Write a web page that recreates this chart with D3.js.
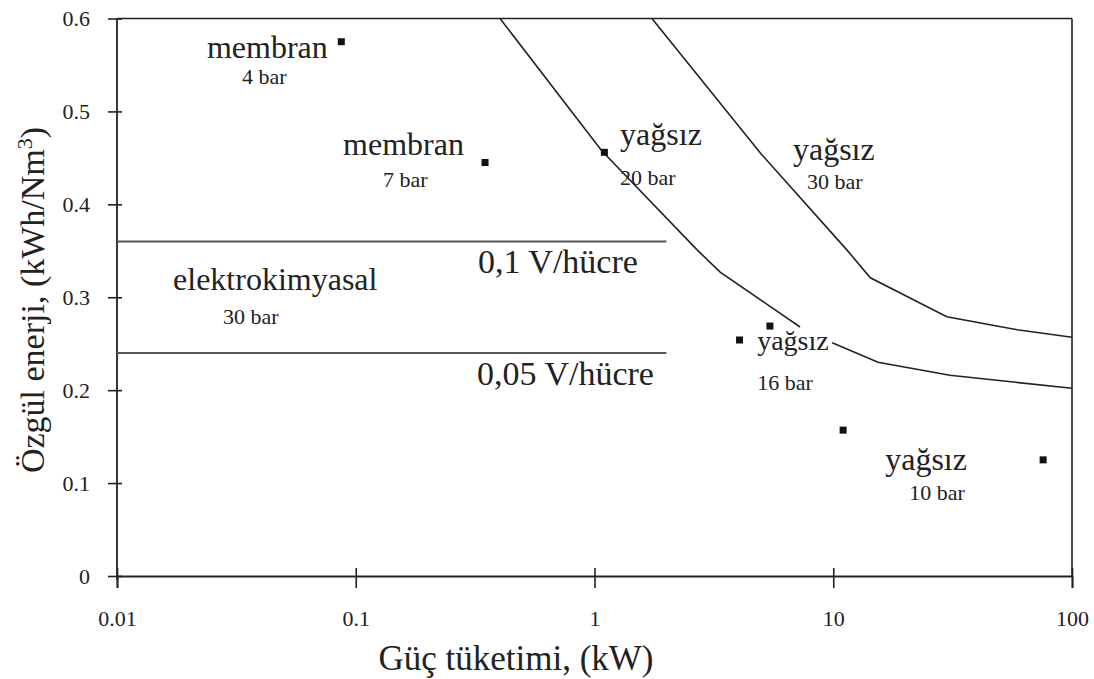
<!DOCTYPE html>
<html><head><meta charset="utf-8">
<script src="https://cdn.jsdelivr.net/npm/d3@7"></script>
<style>body{margin:0;background:#fff}svg{display:block}</style>
</head><body><svg id="c" width="1094" height="679" font-family="Liberation Serif"></svg>
<script>
// Data
const xTicks = [0.01, 0.1, 1, 10, 100];
const xTickLabels = ["0.01", "0.1", "1", "10", "100"];
const yTicks = [0, 0.1, 0.2, 0.3, 0.4, 0.5, 0.6];
const yTickLabels = ["0", "0.1", "0.2", "0.3", "0.4", "0.5", "0.6"];
const pointX = [0.087, 0.348, 1.10, 4.05, 5.43, 11.0, 75.7];
const pointY = [0.575, 0.445, 0.456, 0.254, 0.269, 0.157, 0.125];
// 20 bar curve (lower), two segments with a gap at the label
const curve20aX = [0.402, 1.07, 2.69, 3.36, 7.26];
const curve20aY = [0.6, 0.458, 0.351, 0.327, 0.268];
const curve20bX = [9.9, 15.4, 30.8, 100];
const curve20bY = [0.251, 0.230, 0.216, 0.202];
// 30 bar curve (upper)
const curve30X = [1.74, 5.0, 11.4, 14.3, 29.9, 58.9, 100];
const curve30Y = [0.6, 0.454, 0.351, 0.321, 0.279, 0.265, 0.257];
// electrochemical reference lines
const refLineY = [0.36, 0.24];
const refLineXEnd = [2.0, 2.0];
const refLabels = ["0,1 V/hücre", "0,05 V/hücre"];
const refLabX = [0.325, 0.322];
const refLabY = [0.326, 0.2056];
// annotations
const labelText = ["membran", "membran", "yağsız", "yağsız", "elektrokimyasal", "yağsız", "yağsız"];
const labelX = [0.0238, 0.0885, 1.28, 6.78, 0.01717, 4.80, 16.5];
const labelY = [0.558, 0.453, 0.464, 0.4475, 0.308, 0.243, 0.114];
const labelSize = [32, 32, 32, 32, 32, 28, 32];
const subText = ["4 bar", "7 bar", "20 bar", "30 bar", "30 bar", "16 bar", "10 bar"];
const subX = [0.0334, 0.130, 1.28, 7.77, 0.0278, 4.80, 20.8];
const subY = [0.529, 0.419, 0.421, 0.416, 0.271, 0.2006, 0.0822];

const svg = d3.select("#c");
const x = d3.scaleLog().domain([0.01, 100]).range([117, 1072]);
const y = d3.scaleLinear().domain([0, 0.6]).range([576, 18.5]);
const ink = "#222";
const FONT = "Liberation Serif";

// frame top/right
svg.append("line").attr("x1", x(0.01)).attr("x2", x(100)).attr("y1", y(0.6)).attr("y2", y(0.6)).attr("stroke", ink).attr("stroke-width", 1.6);
svg.append("line").attr("x1", x(100)).attr("x2", x(100)).attr("y1", y(0.6)).attr("y2", y(0)).attr("stroke", ink).attr("stroke-width", 1.6);

// axes
const ax = svg.append("g").attr("transform", `translate(0,${y(0)})`)
  .call(d3.axisBottom(x).tickValues(xTicks).tickFormat((d, i) => xTickLabels[i]).tickSize(12).tickPadding(22));
ax.selectAll(".tick line").attr("y1", -8).attr("y2", 12);
const ay = svg.append("g").attr("transform", `translate(${x(0.01)},0)`)
  .call(d3.axisLeft(y).tickValues(yTicks).tickFormat((d, i) => yTickLabels[i]).tickSize(9).tickPadding(18));
ay.selectAll(".tick line").attr("x1", 5).attr("x2", -9);
[ax, ay].forEach(g => {
  g.attr("font-family", FONT);
  g.select(".domain").attr("stroke", ink).attr("stroke-width", 1.8);
  g.selectAll(".tick line").attr("stroke", ink).attr("stroke-width", 1.6);
  g.selectAll(".tick text").attr("font-family", FONT).attr("font-size", 22).attr("fill", "#222");
});
ay.select(".domain").attr("d", `M0,${y(0.6)}V${y(0)+4}`);

// reference horizontal lines
refLineY.forEach((v, i) => {
  svg.append("line").attr("x1", x(0.01)).attr("x2", x(refLineXEnd[i])).attr("y1", y(v)).attr("y2", y(v))
    .attr("stroke", "#555").attr("stroke-width", 2);
});

// curves
const line = d3.line().x(d => x(d[0])).y(d => y(d[1]));
[[curve20aX, curve20aY], [curve20bX, curve20bY], [curve30X, curve30Y]].forEach(([xs, ys]) => {
  svg.append("path").attr("d", line(xs.map((v, i) => [v, ys[i]]))).attr("fill", "none").attr("stroke", ink).attr("stroke-width", 1.6);
});

// points
svg.selectAll("rect.pt").data(pointX.map((v, i) => [v, pointY[i]])).enter().append("rect")
  .attr("class", "pt")
  .attr("x", d => x(d[0]) - 3.5).attr("y", d => y(d[1]) - 3.5).attr("width", 7).attr("height", 7).attr("fill", "#111");

// labels
labelText.forEach((t, i) => {
  svg.append("text").attr("font-family", FONT).attr("fill", "#222").attr("x", x(labelX[i])).attr("y", y(labelY[i])).attr("font-size", labelSize[i]).text(t);
  svg.append("text").attr("font-family", FONT).attr("fill", "#222").attr("x", x(subX[i])).attr("y", y(subY[i])).attr("font-size", 22).text(subText[i]);
});
refLabels.forEach((t, i) => {
  svg.append("text").attr("font-family", FONT).attr("fill", "#222").attr("x", x(refLabX[i])).attr("y", y(refLabY[i])).attr("font-size", 34).text(t);
});

// axis titles
svg.append("text").attr("font-family", FONT).attr("fill", "#222").attr("x", 516).attr("y", 670).attr("text-anchor", "middle").attr("font-size", 35).text("Güç tüketimi, (kW)");
const yt = svg.append("text").attr("font-family", FONT).attr("fill", "#222").attr("transform", "translate(44,300) rotate(-90)").attr("text-anchor", "middle").attr("font-size", 34);
yt.append("tspan").text("Özgül enerji, (kWh/Nm");
yt.append("tspan").attr("dy", -12).attr("font-size", 22).text("3");
yt.append("tspan").attr("dy", 12).text(")");
</script></body></html>
